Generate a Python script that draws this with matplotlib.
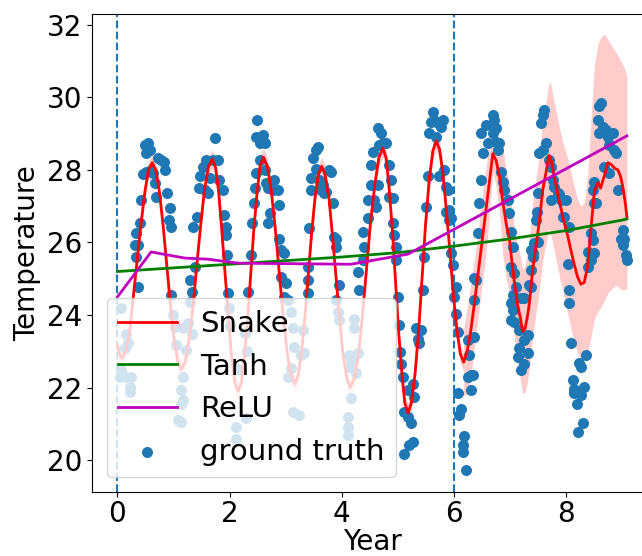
import numpy as np
import matplotlib
matplotlib.use("Agg")
import matplotlib.pyplot as plt

# ---------------- ground truth ----------------
gt_x = [0.04, 0.07, 0.07, 0.13, 0.16, 0.16, 0.19, 0.22, 0.22, 0.25,
        0.365, 0.336, 0.306, 0.365, 0.324, 0.395, 0.425, 0.455, 0.502, 0.484,
        0.544, 0.514, 0.573, 0.603, 0.633, 0.662, 0.692, 0.722, 0.781, 0.823,
        0.841, 0.882, 0.930, 0.918, 0.960, 0.960,
        0.99, 1.02, 1.17, 1.05, 1.17, 1.14, 1.17, 1.14, 1.08, 1.14, 1.29, 1.26, 1.23, 1.32,
        1.334, 1.298, 1.375, 1.346, 1.417, 1.453, 1.477, 1.524, 1.584, 1.554,
        1.613, 1.655, 1.702, 1.732, 1.791, 1.809, 1.880, 1.898, 1.928, 1.940, 1.952, 1.970,
        1.99, 2.00, 2.11, 2.11, 2.29, 2.27, 2.30, 2.15, 2.33,
        2.386, 2.403, 2.427, 2.445, 2.463, 2.487, 2.475, 2.534, 2.593, 2.623,
        2.534, 2.623, 2.653, 2.683, 2.712, 2.683, 2.796, 2.766, 2.855, 2.885,
        2.885, 2.915, 2.974, 2.915, 3.004, 2.974,
        3.033, 3.093, 3.122, 3.301, 3.271, 3.330, 3.152, 3.093, 3.033, 3.122, 3.241,
        3.390, 3.390, 3.402, 3.420, 3.449, 3.449, 3.479, 3.539, 3.580, 3.539,
        3.598, 3.658, 3.687, 3.628, 3.717, 3.776, 3.806, 3.836, 3.866, 3.895, 3.895, 3.955,
        3.895, 3.925, 3.955, 4.222, 4.222, 4.133, 4.163, 4.133, 4.281, 4.251,
        4.163, 4.103, 4.103, 4.103,
        4.311, 4.282, 4.370, 4.400, 4.370, 4.459, 4.459, 4.519, 4.519, 4.548,
        4.637, 4.697, 4.727, 4.667, 4.786, 4.637, 4.608, 4.578, 4.846, 4.875,
        4.846, 4.905, 4.905, 4.935, 4.964, 4.964, 4.994,
        5.024, 5.042, 5.054, 5.083, 5.172, 5.262, 5.291, 5.113, 5.172, 5.232,
        5.262, 5.202, 5.113, 5.321, 5.410, 5.351, 5.381, 5.440,
        5.470, 5.499, 5.529, 5.559, 5.588, 5.618, 5.648, 5.708, 5.767, 5.797,
        5.678, 5.737, 5.826, 5.856, 5.886, 5.916, 5.945, 5.975, 6.035,
        5.855, 5.915, 5.945, 6.004, 6.034,
        6.064, 6.075, 6.123, 6.094, 6.183, 6.153, 6.153, 6.212, 6.242, 6.361,
        6.272, 6.242, 6.302, 6.331, 6.302, 6.361, 6.391,
        6.361, 6.420, 6.450, 6.479, 6.509, 6.479, 6.568, 6.687, 6.717, 6.747,
        6.687, 6.747, 6.777, 6.598, 6.806, 6.836, 6.866, 6.896, 6.955, 6.985,
        7.014, 7.044, 7.074, 7.104, 7.014,
        7.044, 7.014, 7.044, 7.014, 7.074, 7.193, 7.252, 7.163, 7.311, 7.252,
        7.163, 7.133, 7.311, 7.252, 7.193, 7.341, 7.371,
        7.371, 7.400, 7.371, 7.400, 7.430, 7.460, 7.490, 7.478, 7.490, 7.519,
        7.579, 7.549, 7.579, 7.608, 7.638, 7.698, 7.727, 7.757, 7.787, 7.727,
        7.846, 7.906, 7.965, 8.054, 7.995, 7.876, 7.935, 8.024, 8.054, 8.054,
        8.084, 8.351, 8.232, 8.262, 8.114, 8.143, 8.321, 8.143, 8.262, 8.185,
        8.292, 8.203,
        8.381, 8.440, 8.381, 8.440, 8.470, 8.500, 8.529, 8.500, 8.470, 8.500,
        8.589, 8.619, 8.559, 8.589, 8.648, 8.708, 8.738, 8.767, 8.827, 8.857,
        8.886, 8.678, 8.767, 8.916, 9.005, 8.976, 9.035, 9.005, 9.065, 9.080]
gt_y = [22.30, 22.48, 24.18, 23.08, 23.49, 22.30, 23.22, 22.02, 21.88, 22.30,
        24.78, 25.61, 25.93, 25.93, 26.25, 26.53, 27.17, 27.89, 27.95, 28.69,
        28.73, 28.46, 28.55, 28.00, 27.91, 27.63, 27.26, 28.32, 28.27, 28.23,
        28.00, 27.36, 26.94, 26.62, 26.44, 24.55,
        24.00, 23.67, 23.63, 23.17, 22.30, 21.93, 21.65, 21.56, 21.10, 21.05, 24.36, 23.77, 23.03, 23.49,
        24.64, 24.96, 25.33, 26.44, 26.71, 27.49, 27.82, 28.09, 28.27, 27.45,
        27.36, 27.77, 28.27, 28.87, 28.27, 27.72, 27.45, 26.76, 26.44, 26.21, 25.65, 24.60,
        24.20, 23.70, 20.92, 20.59, 21.15, 23.50, 23.00, 22.50, 24.64,
        25.65, 26.53, 27.08, 27.49, 27.91, 29.38, 28.92, 28.73, 28.96, 28.73,
        28.27, 28.00, 27.63, 27.49, 26.80, 26.53, 27.72, 27.45, 27.45, 27.03,
        26.11, 25.79, 25.70, 25.06, 24.87, 24.50,
        24.41, 24.09, 23.63, 23.58, 22.89, 22.94, 23.12, 22.53, 22.30, 21.33, 21.24,
        24.60, 24.96, 25.33, 26.39, 27.45, 27.77, 28.32, 28.55, 28.64, 28.04,
        27.72, 27.58, 27.36, 27.45, 27.40, 28.00, 27.95, 27.08, 26.16, 25.88, 26.11, 24.83,
        24.41, 24.09, 23.86, 23.90, 23.63, 22.89, 22.76, 22.57, 22.94, 22.39,
        21.70, 21.19, 20.92, 20.69,
        24.69, 25.19, 25.52, 25.88, 26.30, 26.67, 27.17, 27.58, 28.14, 28.50,
        29.15, 29.01, 28.73, 28.69, 28.73, 27.58, 26.99, 27.17, 28.14, 27.72,
        27.26, 27.22, 26.53, 26.21, 25.88, 25.52, 24.50,
        23.72, 22.99, 22.66, 22.30, 21.93, 22.11, 21.74, 21.33, 21.19, 21.01,
        20.50, 20.41, 20.16, 23.63, 23.58, 23.35, 23.22, 24.69,
        25.61, 26.99, 27.82, 29.01, 29.33, 29.61, 29.38, 29.29, 29.19, 29.38,
        28.92, 27.82, 28.00, 27.54, 27.45, 26.90, 26.67, 25.38, 24.78,
        26.85, 26.62, 25.70, 24.50, 24.04,
        23.54, 21.84, 21.42, 21.24, 20.66, 20.41, 20.23, 19.74, 23.31, 23.40,
        22.89, 22.30, 22.34, 22.34, 21.93, 24.41, 24.96,
        25.01, 26.25, 27.08, 27.72, 28.46, 29.01, 29.24, 29.52, 29.38, 29.15,
        29.01, 28.78, 28.55, 28.73, 28.73, 27.95, 27.68, 27.45, 27.17, 26.80,
        26.30, 25.88, 25.15, 24.78, 25.33,
        24.55, 24.32, 24.14, 23.86, 23.81, 24.46, 24.46, 23.58, 23.45, 23.31,
        23.08, 22.85, 22.94, 22.66, 22.48, 24.83, 24.78,
        25.79, 25.70, 25.24, 25.61, 25.98, 26.62, 27.36, 26.85, 26.02, 28.46,
        28.55, 29.29, 29.52, 29.65, 28.73, 28.27, 28.09, 27.72, 27.54, 27.17,
        27.36, 27.17, 26.71, 26.44, 27.17, 27.35, 26.71, 25.42, 24.69, 24.32,
        23.23, 22.89, 22.68, 22.57, 22.20, 21.97, 22.02, 21.84, 21.79, 21.56,
        21.01, 20.78,
        25.74, 25.51, 25.33, 26.25, 26.07, 25.70, 27.08, 27.68, 27.45, 27.08,
        29.75, 29.84, 29.38, 29.01, 29.19, 29.10, 28.92, 28.69, 29.01, 28.55,
        28.46, 28.09, 27.91, 27.45, 26.34, 26.11, 26.11, 25.93, 25.65, 25.51]

# ---------------- Snake prediction ----------------
snake_x = [0.00, 0.04, 0.08, 0.15, 0.22, 0.28, 0.35, 0.42, 0.49, 0.55, 0.62,
           0.685, 0.75, 0.815, 0.88, 0.945, 1.01, 1.075, 1.14,
           1.21, 1.28, 1.35, 1.415, 1.485, 1.55, 1.62, 1.69,
           1.75, 1.805, 1.86, 1.92, 1.98, 2.035, 2.09, 2.15,
           2.21, 2.26, 2.32, 2.375, 2.43, 2.49, 2.54, 2.60,
           2.67, 2.74, 2.81, 2.88, 2.95, 3.02, 3.09, 3.16,
           3.22, 3.28, 3.34, 3.40, 3.46, 3.52, 3.58, 3.64,
           3.70, 3.77, 3.83, 3.895, 3.96, 4.02, 4.09, 4.15,
           4.22, 4.30, 4.37, 4.44, 4.51, 4.59, 4.66, 4.73,
           4.79, 4.84, 4.90, 4.955, 5.01, 5.07, 5.12, 5.18,
           5.24, 5.305, 5.37, 5.43, 5.49, 5.555, 5.62, 5.68,
           5.74, 5.80, 5.86, 5.925, 5.985, 6.05, 6.11, 6.17]
snake_y = [23.15, 22.90, 22.80, 23.01, 23.59, 24.47, 25.50, 26.53, 27.41, 27.99, 28.20,
           27.98, 27.37, 26.44, 25.35, 24.26, 23.33, 22.72, 22.50,
           22.72, 23.35, 24.29, 25.40, 26.51, 27.45, 28.08, 28.30,
           28.06, 27.37, 26.32, 25.10, 23.88, 22.83, 22.14, 21.90,
           22.15, 22.84, 23.89, 25.13, 26.36, 27.41, 28.10, 28.35,
           28.11, 27.44, 26.42, 25.23, 24.03, 23.01, 22.34, 22.10,
           22.33, 22.98, 23.95, 25.10, 26.25, 27.22, 27.87, 28.10,
           27.87, 27.21, 26.22, 25.05, 23.88, 22.89, 22.23, 22.00,
           22.25, 22.96, 24.04, 25.30, 26.56, 27.64, 28.35, 28.60,
           28.32, 27.53, 26.34, 24.95, 23.56, 22.37, 21.58, 21.30,
           21.59, 22.40, 23.62, 25.05, 26.48, 27.71, 28.52, 28.80,
           28.57, 27.91, 26.92, 25.75, 24.58, 23.59, 22.93, 22.70]
train_band = 0.25

test_x = [6.17, 6.23, 6.27, 6.30, 6.36, 6.42, 6.48, 6.54, 6.60, 6.65, 6.69,
          6.75, 6.81, 6.87, 6.93, 6.99, 7.02, 7.07, 7.13, 7.19, 7.22, 7.26,
          7.30, 7.34, 7.40, 7.46, 7.52, 7.58, 7.64, 7.69, 7.72, 7.76, 7.82,
          7.88, 7.94, 7.97, 8.03, 8.08, 8.14, 8.20, 8.26, 8.32, 8.38, 8.44,
          8.50, 8.56, 8.61, 8.68, 8.74, 8.80, 8.86, 8.92, 8.97, 9.01, 9.05, 9.08]
test_y = [22.70, 23.00, 23.30, 23.60, 24.30, 25.05, 25.80, 26.55, 27.30, 27.95, 28.45,
          28.25, 27.80, 27.10, 26.50, 26.05, 25.60, 24.95, 24.30, 23.85, 23.55, 23.60,
          23.90, 24.30, 25.25, 25.90, 26.60, 27.45, 27.95, 28.40, 28.35, 28.00, 27.55,
          27.10, 26.70, 26.50, 26.15, 25.80, 25.40, 25.05, 24.85, 24.90, 25.35, 26.40,
          27.40, 27.65, 27.50, 27.85, 28.20, 28.15, 28.05, 28.00, 27.80, 27.50, 27.10, 26.70]
test_lo = [21.80, 21.80, 22.00, 22.30, 23.10, 23.85, 24.60, 25.35, 26.20, 27.20, 27.95,
           27.55, 26.80, 25.60, 25.00, 24.55, 24.10, 23.45, 22.70, 22.15, 21.85, 21.85,
           22.10, 22.50, 23.40, 24.05, 24.70, 25.50, 26.00, 26.40, 26.30, 25.95, 25.50,
           25.05, 24.65, 24.40, 24.00, 23.65, 23.25, 22.95, 22.75, 22.80, 22.95, 23.40,
           23.90, 24.10, 24.20, 24.40, 24.60, 24.70, 24.80, 24.80, 24.70, 24.70, 24.70, 24.70]
test_hi = [23.60, 24.20, 24.60, 24.90, 25.50, 26.25, 27.00, 27.75, 28.40, 28.75, 28.95,
           28.95, 28.80, 28.60, 28.00, 27.55, 27.10, 26.45, 25.90, 25.55, 25.25, 25.35,
           25.70, 26.10, 27.10, 27.75, 28.45, 29.35, 29.90, 30.40, 30.40, 30.05, 29.60,
           29.15, 28.75, 28.60, 28.30, 27.95, 27.55, 27.20, 27.00, 27.10, 27.85, 29.40,
           30.90, 31.45, 31.65, 31.75, 31.60, 31.45, 31.30, 31.15, 31.00, 30.90, 30.75, 30.60]

# ---------------- Tanh / ReLU ----------------
tanh_x = [0.0, 1.0, 2.0, 3.0, 4.0, 5.0, 6.0, 7.0, 8.0, 9.0, 9.08]
tanh_y = [25.20, 25.30, 25.40, 25.50, 25.60, 25.72, 25.90, 26.10, 26.33, 26.62, 26.65]
relu_x = [0.0, 0.60, 1.20, 1.61, 2.15, 4.16, 5.18, 9.08]
relu_y = [24.50, 25.74, 25.57, 25.54, 25.43, 25.40, 25.68, 28.94]

split_lines = [0, 6]

# ---------------- plot ----------------
fig = plt.figure(figsize=(6.42, 5.56), dpi=100)
ax = fig.add_axes([0.1433, 0.1151, 0.8729, 0.8597])

pink = (1.0, 0.8, 0.8)
ax.fill_between(snake_x, np.array(snake_y) - train_band, np.array(snake_y) + train_band,
                color=pink, linewidth=0, zorder=1)
ax.fill_between(test_x, test_lo, test_hi, color=pink, linewidth=0, zorder=1)

pts = ax.scatter(gt_x, gt_y, s=48, color='tab:blue', zorder=2, label='ground truth')
l1, = ax.plot(snake_x + test_x[1:], snake_y + test_y[1:], color='red', lw=2, zorder=3, label='Snake')
l2, = ax.plot(tanh_x, tanh_y, color='green', lw=2, zorder=3, label='Tanh')
l3, = ax.plot(relu_x, relu_y, color='m', lw=2, zorder=3, label='ReLU')
for xv in split_lines:
    ax.axvline(xv, color='tab:blue', ls='--', lw=1.5, zorder=2)

ax.set_xlim(-0.454, 9.534)
ax.set_ylim(19.12, 32.3)
ax.set_xticks([0, 2, 4, 6, 8])
ax.set_yticks([20, 22, 24, 26, 28, 30, 32])
ax.tick_params(labelsize=20)
ax.tick_params(axis='x', pad=2)
ax.set_xlabel('Year', fontsize=20, labelpad=0)
ax.set_ylabel('Temperature', fontsize=20)
ax.legend(handles=[l1, l2, l3, pts], loc='lower left', fontsize=21)

fig.savefig('out.png', dpi=100)
